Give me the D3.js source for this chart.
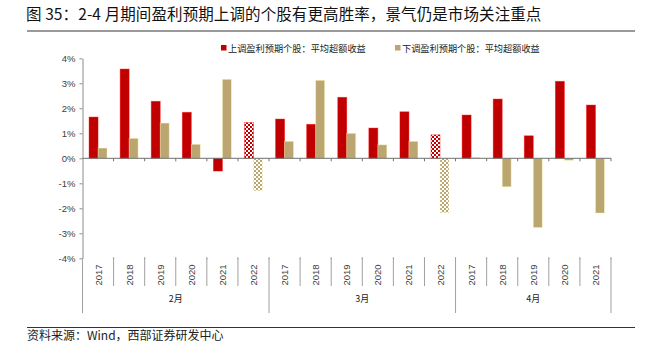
<!DOCTYPE html>
<html>
<head>
<meta charset="utf-8">
<script src="https://cdn.jsdelivr.net/npm/d3@7"></script>
<style>
  body { margin: 0; background: #fff; }
  text { font-family: "Liberation Sans", Arial, "Noto Sans CJK SC", sans-serif; }
  .cjk { font-family: "Noto Sans CJK SC", sans-serif; }
</style>
</head>
<body>
<div id="graph-area"></div>
<script>
// chart data
var groupLabels = ["2月", "3月", "4月"];
var groupSizes  = [6, 6, 5];
var yearLabels  = ["2017", "2018", "2019", "2020", "2021", "2022",
                   "2017", "2018", "2019", "2020", "2021", "2022",
                   "2017", "2018", "2019", "2020", "2021"];
var upValues    = [1.65, 3.57, 2.28, 1.84, -0.51, 1.43,
                   1.57, 1.36, 2.44, 1.21, 1.86, 0.94,
                   1.73, 2.37, 0.90, 3.08, 2.13];
var downValues  = [0.41, 0.80, 1.41, 0.56, 3.16, -1.30,
                   0.68, 3.12, 1.00, 0.54, 0.68, -2.18,
                   0.03, -1.14, -2.77, -0.08, -2.19];
var partialYear = "2022";   // drawn checkered
var yTicks      = [-4, -3, -2, -1, 0, 1, 2, 3, 4];
var seriesNames = ["上调盈利预期个股：平均超额收益", "下调盈利预期个股：平均超额收益"];
var titleText   = "图 35：2-4 月期间盈利预期上调的个股有更高胜率，景气仍是市场关注重点";
var sourceText  = "资料来源：Wind，西部证券研发中心";

var width = 662, height = 360;
var red = "#C00000", tan = "#BBA571";
var axisColor = "#8c8c8c", labelColor = "#404040";

var svg = d3.select('#graph-area')
            .append('svg')
            .attr('width', width)
            .attr('height', height);

// checkered fills for the partial year
var defs = svg.append('defs');
[["hatch-up", red], ["hatch-down", tan]].forEach(function(p){
  var pat = defs.append('pattern')
                .attr('id', p[0])
                .attr('width', 4).attr('height', 4)
                .attr('patternUnits', 'userSpaceOnUse');
  pat.append('rect').attr('width', 4).attr('height', 4).attr('fill', '#fff');
  pat.append('rect').attr('width', 2).attr('height', 2).attr('fill', p[1]);
  pat.append('rect').attr('x', 2).attr('y', 2).attr('width', 2).attr('height', 2).attr('fill', p[1]);
});

// title + rules
svg.append('text')
   .attr('class', 'cjk')
   .attr('x', 26).attr('y', 20)
   .attr('font-size', 15.5)
   .attr('letter-spacing', 0.1)
   .attr('fill', '#111')
   .text(titleText);
svg.append('line')
   .attr('x1', 27).attr('x2', 635).attr('y1', 31).attr('y2', 31)
   .attr('stroke', '#9a9a9a').attr('stroke-width', 2);
svg.append('line')
   .attr('x1', 27).attr('x2', 635).attr('y1', 327.5).attr('y2', 327.5)
   .attr('stroke', '#333').attr('stroke-width', 1.2);
svg.append('text')
   .attr('class', 'cjk')
   .attr('x', 27).attr('y', 340)
   .attr('font-size', 12)
   .attr('fill', '#222')
   .text(sourceText);

// scales
var idx = d3.range(yearLabels.length);
var x = d3.scaleBand().domain(idx).range([82.5, 611]);
var sub = d3.scaleBand().domain([0, 1]).range([0, x.bandwidth()]).paddingOuter(0.73);
var y = d3.scaleLinear().domain([-4, 4]).range([258.3, 58.3]);

var g = svg.append('g');

// y axis
var yAxis = g.append('g')
   .attr('transform', 'translate(82.5,0)')
   .call(d3.axisLeft(y).tickValues(yTicks).tickSize(3).tickSizeOuter(0)
           .tickFormat(function(d){ return d + "%"; }));
yAxis.select('.domain').attr('stroke', axisColor);
yAxis.selectAll('.tick line').attr('stroke', axisColor);
yAxis.selectAll('.tick text')
     .attr('fill', labelColor)
     .attr('font-size', 9.5)
     .attr('x', -7)
     .style('font-family', '"Liberation Sans", Arial, sans-serif');

// bars
var seriesList = [upValues, downValues];
var fills = [red, tan];
seriesList.forEach(function(vals, s){
  g.selectAll('.bar-' + s)
   .data(idx)
   .enter().append('rect')
   .attr('class', 'bar-' + s)
   .attr('x', function(i){ return x(i) + sub(s); })
   .attr('width', sub.bandwidth())
   .attr('y', function(i){ return y(Math.max(0, vals[i])); })
   .attr('height', function(i){ return Math.abs(y(vals[i]) - y(0)); })
   .attr('fill', function(i){
     return yearLabels[i] === partialYear ? 'url(#hatch-' + (s ? 'down' : 'up') + ')' : fills[s];
   })
   .attr('stroke', d3.rgb(fills[s]).brighter(1.4))
   .attr('stroke-opacity', 0.5)
   .attr('stroke-width', 0.8);
});

// zero line with ticks
var bounds = d3.range(yearLabels.length + 1).map(function(i){
  return i < yearLabels.length ? x(i) : x.range()[1];
});
g.append('line')
 .attr('x1', 82.5).attr('x2', 611).attr('y1', y(0)).attr('y2', y(0))
 .attr('stroke', '#707070').attr('stroke-width', 1);
g.selectAll('.zero-tick')
 .data(bounds.slice(1))
 .enter().append('line')
 .attr('x1', function(d){ return d; }).attr('x2', function(d){ return d; })
 .attr('y1', y(0)).attr('y2', y(0) + 3)
 .attr('stroke', '#707070');
g.selectAll('.bottom-tick')
 .data(bounds.slice(1))
 .enter().append('line')
 .attr('x1', function(d){ return d; }).attr('x2', function(d){ return d; })
 .attr('y1', y(-4) - 1).attr('y2', y(-4) + 1)
 .attr('stroke', axisColor);

// category separators, long ones mark the month groups
var groupStarts = [0];
groupSizes.forEach(function(n, k){ groupStarts.push(groupStarts[k] + n); });
g.selectAll('.sep')
 .data(bounds)
 .enter().append('line')
 .attr('x1', function(d){ return d; }).attr('x2', function(d){ return d; })
 .attr('y1', y(-4))
 .attr('y2', function(d, i){ return groupStarts.indexOf(i) >= 0 ? 313 : 286; })
 .attr('stroke', '#a0a0a0').attr('stroke-width', 1);

// year labels
g.selectAll('.year')
 .data(idx)
 .enter().append('text')
 .attr('transform', function(i){
   return 'translate(' + (x(i) + x.bandwidth() / 2 + 3.5) + ',275) rotate(-90)';
 })
 .attr('text-anchor', 'middle')
 .attr('font-size', 9.5)
 .attr('fill', labelColor)
 .text(function(i){ return yearLabels[i]; });

// month labels
g.selectAll('.month')
 .data(groupLabels)
 .enter().append('text')
 .attr('class', 'cjk')
 .attr('x', function(d, k){
   return (bounds[groupStarts[k]] + bounds[groupStarts[k + 1]]) / 2;
 })
 .attr('y', 302)
 .attr('text-anchor', 'middle')
 .attr('font-size', 9)
 .attr('fill', '#222')
 .text(function(d){ return d; });

// legend
var legendX = [221, 395];
var legend = g.selectAll('.legend')
  .data(seriesNames)
  .enter().append('g')
  .attr('transform', function(d, i){ return 'translate(' + legendX[i] + ',48)'; });
legend.append('rect')
  .attr('x', 0).attr('y', -3).attr('width', 5.5).attr('height', 5.5)
  .attr('fill', function(d, i){ return fills[i]; });
legend.append('text')
  .attr('class', 'cjk')
  .attr('x', 7).attr('y', 3.5)
  .attr('font-size', 9.2)
  .attr('fill', '#222')
  .text(function(d){ return d; });
</script>
</body>
</html>
